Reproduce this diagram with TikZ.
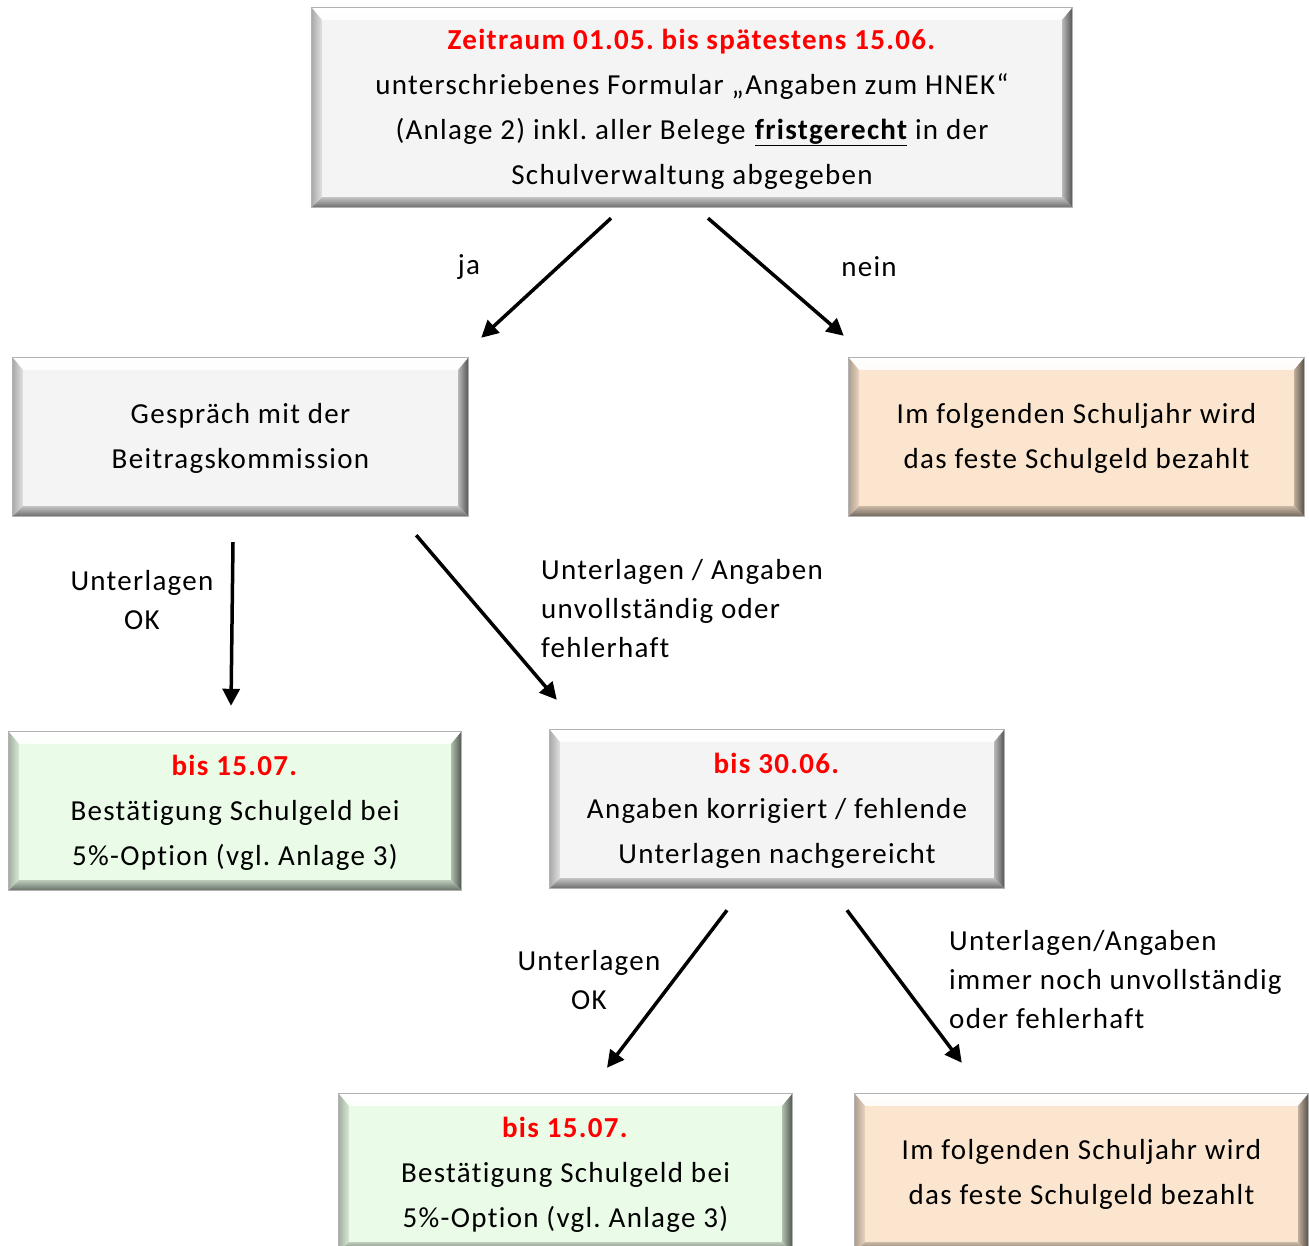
\documentclass[tikz,border=0pt]{standalone}
\usepackage{fontspec}
\setmainfont{Carlito}[LetterSpace=4.5, Ligatures=NoCommon]
\usetikzlibrary{calc,arrows.meta}
\definecolor{boxgray}{RGB}{244,244,244}
\definecolor{boxpeach}{RGB}{252,229,206}
\definecolor{boxgreen}{RGB}{234,252,232}
\definecolor{txtred}{RGB}{255,0,0}
\frenchspacing
\tikzset{
  box/.style={rectangle, inner sep=0pt, align=center, font=\fontsize{29}{45}\selectfont},
  lbl/.style={inner sep=0pt, font=\fontsize{29}{39}\selectfont},
  arr/.style={line width=3.5pt, -{Triangle[length=17pt,width=17pt]}},
}
% name, cx, cy, w, h, colour, text
\newcommand\bevbox[7]{%
  \node[box, minimum width=#4pt, minimum height=#5pt, fill=#6] (#1) at (#2,#3) {\raisebox{-2pt}{\begin{tabular}{@{}c@{}}#7\end{tabular}}};
  \shade[top color=white, bottom color=white!85!#6] (#1.north west) -- (#1.north east) -- ($(#1.north east)+(-10,12)$) -- ($(#1.north west)+(10,12)$) -- cycle;
  \shade[left color=#6!70!black, right color=#6!92!black] (#1.north west) -- ($(#1.north west)+(10,12)$) -- ($(#1.south west)+(10,-10)$) -- (#1.south west) -- cycle;
  \shade[left color=#6!75!black, right color=#6!35!black] (#1.north east) -- ($(#1.north east)+(-10,12)$) -- ($(#1.south east)+(-10,-10)$) -- (#1.south east) -- cycle;
  \shade[top color=#6!80!black, bottom color=#6!45!black] (#1.south west) -- ($(#1.south west)+(10,-10)$) -- ($(#1.south east)+(-10,-10)$) -- (#1.south east) -- cycle;
  \draw[gray!60, line width=0.8pt] (#1.north west) rectangle (#1.south east);
}
\begin{document}
\begin{tikzpicture}[x=1pt, y=-1pt]
\useasboundingbox (0,0) rectangle (1309,1245);
\clip (0,0) rectangle (1309,1245);
\fill[white] (0,0) rectangle (1309,1245);

\bevbox{top}{692}{107.5}{760}{199}{boxgray}{\textcolor{txtred}{\textbf{Zeitraum 01.05. bis spätestens 15.06.}}\\ unterschriebenes Formular „Angaben zum HNEK“\\ (Anlage 2) inkl. aller Belege \textbf{\underline{fristgerecht}} in der\\ Schulverwaltung abgegeben}
\bevbox{gesp}{240.5}{437}{455}{158}{boxgray}{Gespräch mit der\\ Beitragskommission}
\bevbox{fest1}{1076.5}{437}{455}{158}{boxpeach}{Im folgenden Schuljahr wird\\ das feste Schulgeld bezahlt}
\bevbox{ok1}{235}{811}{452}{158}{boxgreen}{\textcolor{txtred}{\textbf{bis 15.07.}}\\ Bestätigung Schulgeld bei\\ 5\%-Option (vgl. Anlage 3)}
\bevbox{korr}{777}{809}{454}{158}{boxgray}{\textcolor{txtred}{\textbf{bis 30.06.}}\\ Angaben korrigiert / fehlende\\ Unterlagen nachgereicht}
\bevbox{ok2}{565.5}{1173}{453}{158}{boxgreen}{\textcolor{txtred}{\textbf{bis 15.07.}}\\ Bestätigung Schulgeld bei\\ 5\%-Option (vgl. Anlage 3)}
\bevbox{fest2}{1081.5}{1173}{453}{158}{boxpeach}{Im folgenden Schuljahr wird\\ das feste Schulgeld bezahlt}

\draw[arr] ($(top.south)+(-81,11)$) -- ($(gesp.north east)+(13,-20)$);
\draw[arr] ($(top.south)+(16,11)$) -- ($(fest1.north west)+(-5,-22)$);
\draw[arr] ($(gesp.south)+(-7.5,26)$) -- ($(ok1.north)+(-4,-26)$);
\draw[arr] ($(gesp.south east)+(-52,19)$) -- ($(korr.north west)+(7,-30)$);
\draw[arr] ($(korr.south)+(-50,22)$) -- ($(ok2.north)+(41.5,-26)$);
\draw[arr] ($(korr.south)+(70,22)$) -- ($(fest2.north west)+(107,-31)$);

\node[lbl] (lja) at (469,267) {ja};
\node[lbl] (lnein) at (869,267) {nein};
\node[lbl, align=center] (lok1) at (142,600) {Unterlagen\\ OK};
\node[lbl, align=left, anchor=west] (lunv1) at (541,609) {Unterlagen / Angaben\\ unvollständig oder\\ fehlerhaft};
\node[lbl, align=center] (lok2) at (589,980) {Unterlagen\\ OK};
\node[lbl, align=left, anchor=west] (lunv2) at (949,980) {Unterlagen/Angaben\\ immer noch unvollständig\\ oder fehlerhaft};
\end{tikzpicture}
\end{document}
